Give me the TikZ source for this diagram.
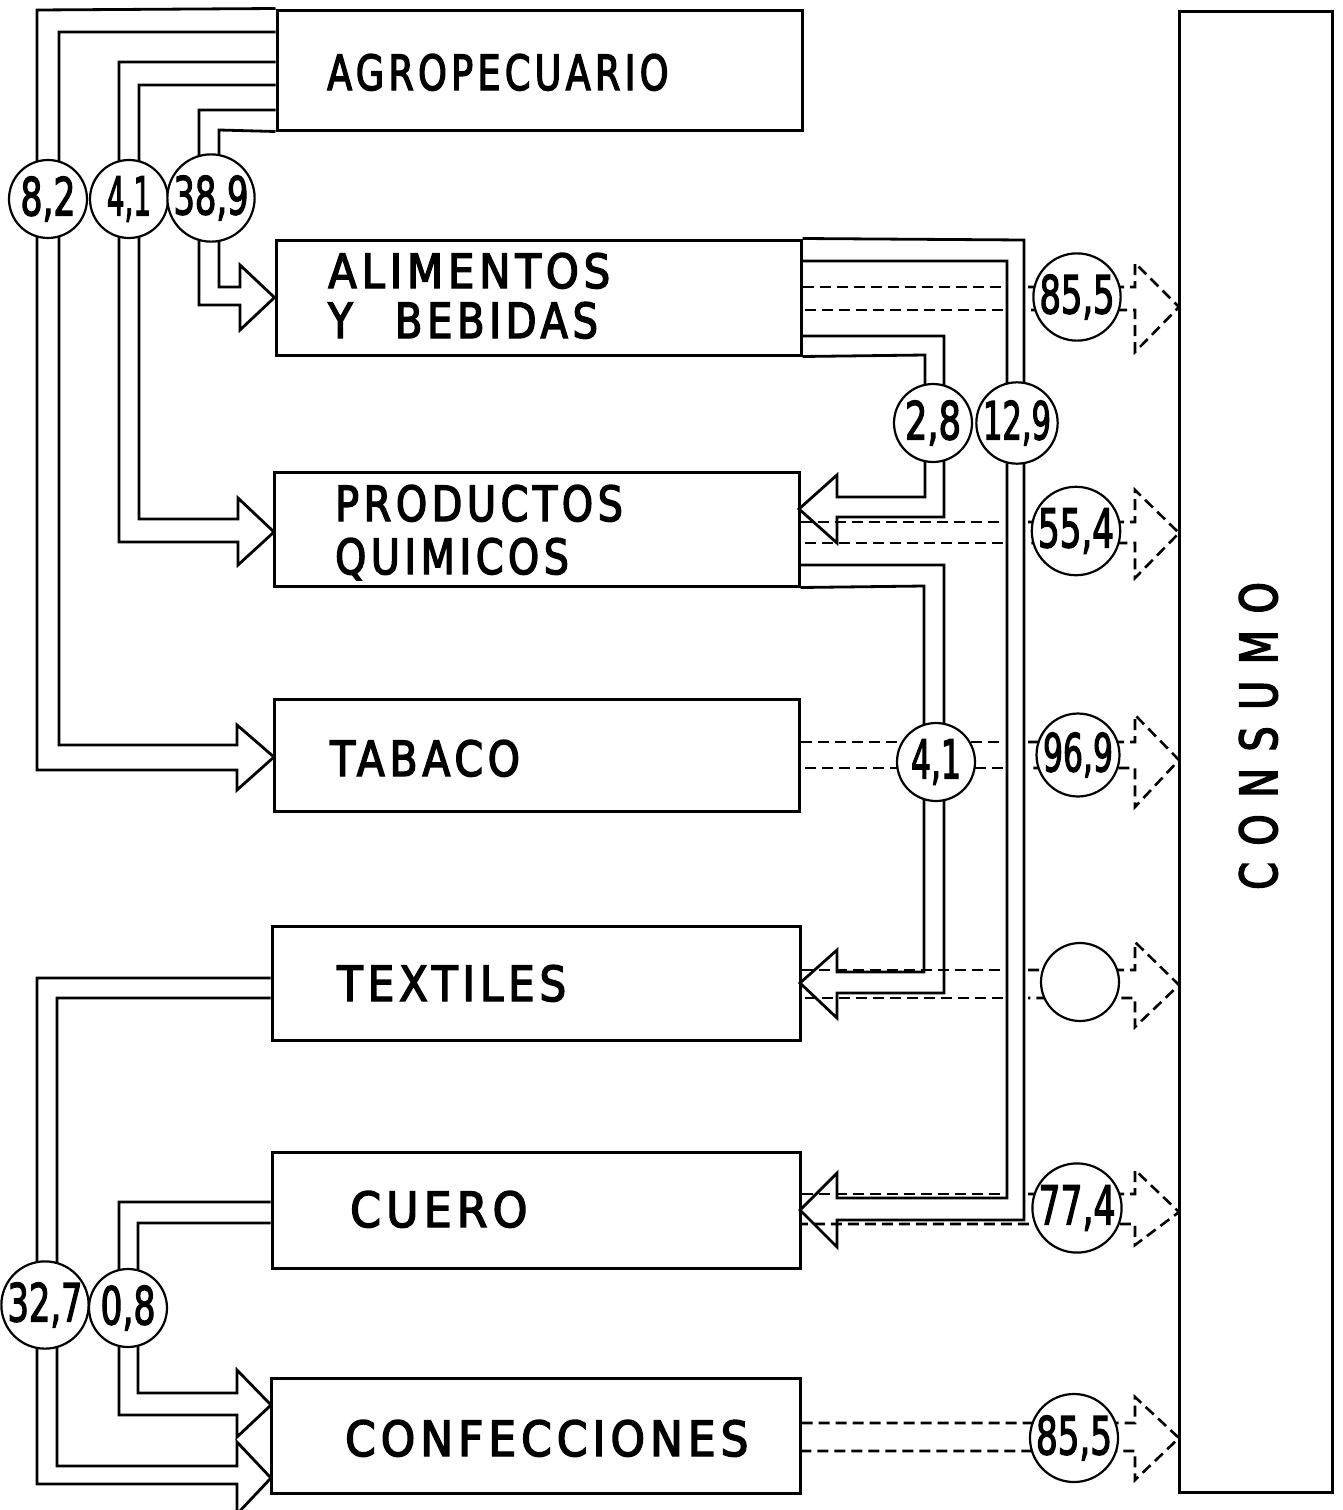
\documentclass[tikz,border=0pt]{standalone}
\usepackage{fontspec}
\usepackage{graphicx}
\newfontfamily\lblfont[FakeStretch=0.85,LetterSpace=10,FakeBold=3]{DejaVu Sans}
\newfontfamily\numfont[FakeStretch=0.8,FakeBold=2.5]{DejaVu Sans}
\newcommand{\lbtext}[3]{\resizebox{#1pt}{#2pt}{\lblfont #3\kern-0.1em}}
\newcommand{\nbtext}[2]{\resizebox{#1pt}{39pt}{\numfont #2}}
\begin{document}
\begin{tikzpicture}[x=1pt,y=-1pt,line join=miter,
  box/.style={draw,line width=3pt,inner sep=0pt},
  chan/.style={line width=2.8pt},
  dsh/.style={line width=2.6pt,dash pattern=on 11pt off 6pt},
  circ/.style={circle,draw,fill=white,line width=2.2pt,minimum size=78pt,inner sep=0pt},
  lbl/.style={inner sep=0pt,anchor=base west}]
\fill[white] (0,0) rectangle (1342,1510);
\useasboundingbox (0,0) rectangle (1342,1510);

% boxes
\node[box,minimum width=525pt,minimum height=120pt] (agro) at (539.5,70) {};
\node[box,minimum width=525pt,minimum height=115pt] (alim) at (538.5,297.5) {};
\node[box,minimum width=525pt,minimum height=114pt] (quim) at (536.5,529) {};
\node[box,minimum width=525pt,minimum height=112pt] (taba) at (536.5,755) {};
\node[box,minimum width=528pt,minimum height=114pt] (txtl) at (536,983) {};
\node[box,minimum width=528pt,minimum height=116pt] (cuer) at (536,1210) {};
\node[box,minimum width=529pt,minimum height=115pt] (conf) at (535.5,1435.5) {};
\node[box,minimum width=153pt,minimum height=1481pt] (cons) at (1255.5,751.5) {};

% solid channels
\draw[chan] (agro.north west) -- (37,10) -- (37,770) -- (237,770) -- (237,790) -- (274,757) -- (237,725) -- (237,745) -- (59,745) -- (59,32) -- (agro.west |- 0,32);
\draw[chan] (agro.west |- 0,62) -- (119,62) -- (119,542) -- (238,542) -- (238,565) -- (274,532) -- (238,498) -- (238,519) -- (139,519) -- (139,85) -- (agro.west |- 0,85);
\draw[chan] (agro.west |- 0,110) -- (199,110) -- (199,305) -- (240,305) -- (240,330) -- (alim.west) -- (240,265) -- (240,287) -- (219,287) -- (219,130) -- (agro.south west);
\draw[chan] (alim.north east) -- (1024,240) -- (1024,1220) -- (837,1220) -- (837,1247) -- (800,1210) -- (837,1173) -- (837,1198) -- (1007,1198) -- (1007,261) -- (alim.east |- 0,261);
\draw[chan] (alim.east |- 0,336) -- (944,336) -- (944,517) -- (837,517) -- (837,543) -- (799,509) -- (837,475) -- (837,497) -- (925,497) -- (925,355) -- (alim.south east);
\draw[chan] (quim.east |- 0,565) -- (944,565) -- (944,993) -- (837,993) -- (837,1018) -- (800,983) -- (837,950) -- (837,972) -- (924,972) -- (924,586) -- (quim.south east);
\draw[chan] (txtl.west |- 0,978) -- (37,978) -- (37,1484) -- (237,1484) -- (237,1514) -- (271,1478) -- (237,1442) -- (237,1466) -- (57,1466) -- (57,998) -- (txtl.west |- 0,998);
\draw[chan] (cuer.west |- 0,1202) -- (119,1202) -- (119,1415) -- (237,1415) -- (237,1437) -- (271,1405) -- (237,1370) -- (237,1393) -- (138,1393) -- (138,1223) -- (cuer.west |- 0,1223);

% dashed outputs
\draw[dsh] (alim.east |- 0,287) -- (1003,287);
\draw[dsh] (1028,287) -- (1135,287) -- (1135,263) -- (1179,307) -- (1135,352) -- (1135,310) -- (1028,310);
\draw[dsh] (1003,310) -- (alim.east |- 0,310);

\draw[dsh] (quim.east |- 0,522) -- (1003,522);
\draw[dsh] (1028,522) -- (1135,522) -- (1135,490) -- (1179,533) -- (1135,578) -- (1135,543) -- (1028,543);
\draw[dsh] (1003,543) -- (quim.east |- 0,543);

\draw[dsh] (taba.east |- 0,742) -- (1003,742);
\draw[dsh] (1028,742) -- (1135,742) -- (1135,715) -- (1179,760) -- (1135,807) -- (1135,768) -- (1028,768);
\draw[dsh] (1003,768) -- (taba.east |- 0,768);

\draw[dsh] (txtl.east |- 0,970) -- (1003,970);
\draw[dsh] (1028,970) -- (1135,970) -- (1135,942) -- (1179,985) -- (1135,1027) -- (1135,998) -- (1028,998);
\draw[dsh] (1003,998) -- (txtl.east |- 0,998);

\draw[dsh] (cuer.east |- 0,1194) -- (1003,1194);
\draw[dsh] (1028,1194) -- (1135,1194) -- (1135,1170) -- (1179,1212) -- (1135,1245) -- (1135,1224) -- (cuer.east |- 0,1224);

\draw[dsh] (conf.east |- 0,1423) -- (1135,1423) -- (1135,1397) -- (1179,1438) -- (1135,1480) -- (1135,1451) -- (conf.east |- 0,1451);

% circles
\node[circ] (c82) at (48,199) {\nbtext{55}{8,2}};
\node[circ] (c41a) at (129,199) {\nbtext{44}{4,1}};
\node[circ] (c389) at (211,198) {\nbtext{75}{38,9}};
\node[circ] (c28) at (933,423) {\nbtext{56}{2,8}};
\node[circ] (c129) at (1017,423) {\nbtext{68}{12,9}};
\node[circ] (c855a) at (1077,297) {\nbtext{75}{85,5}};
\node[circ] (c554) at (1076,531) {\nbtext{76}{55,4}};
\node[circ] (c41b) at (936,762) {\nbtext{50}{4,1}};
\node[circ] (c969) at (1078,755) {\nbtext{70}{96,9}};
\node[circ] (cemp) at (1080,982) {};
\node[circ] (c774) at (1077,1208) {\nbtext{77}{77,4}};
\node[circ] (c855b) at (1074,1438) {\nbtext{76}{85,5}};
\node[circ] (c327) at (45,1305) {\nbtext{75}{32,7}};
\node[circ] (c08) at (128,1308) {\nbtext{55}{0,8}};

% labels
\node[lbl] (tagro) at (327,90) {\lbtext{337}{36}{AGROPECUARIO}};
\node[lbl] (talim1) at (328,288) {\lbtext{277}{35}{ALIMENTOS}};
\node[lbl] (talim2) at (328,338) {\lbtext{265}{36}{Y\kern0.9em BEBIDAS}};
\node[lbl] (tquim1) at (335,521) {\lbtext{283}{36}{PRODUCTOS}};
\node[lbl] (tquim2) at (335,574) {\lbtext{229}{36}{QUIMICOS}};
\node[lbl] (ttaba) at (330,776) {\lbtext{185}{36}{TABACO}};
\node[lbl] (ttxtl) at (337,1001) {\lbtext{224}{36}{TEXTILES}};
\node[lbl] (tcuer) at (350,1227) {\lbtext{172}{36}{CUERO}};
\node[lbl] (tconf) at (345,1456) {\lbtext{398}{36}{CONFECCIONES}};
\node[lbl,rotate=90] (tcons) at (1277,890) {\resizebox{303pt}{38pt}{\lblfont C\kern0.35em O\kern0.35em N\kern0.35em S\kern0.35em U\kern0.35em M\kern0.35em O\kern-0.1em}};
\end{tikzpicture}
\end{document}
